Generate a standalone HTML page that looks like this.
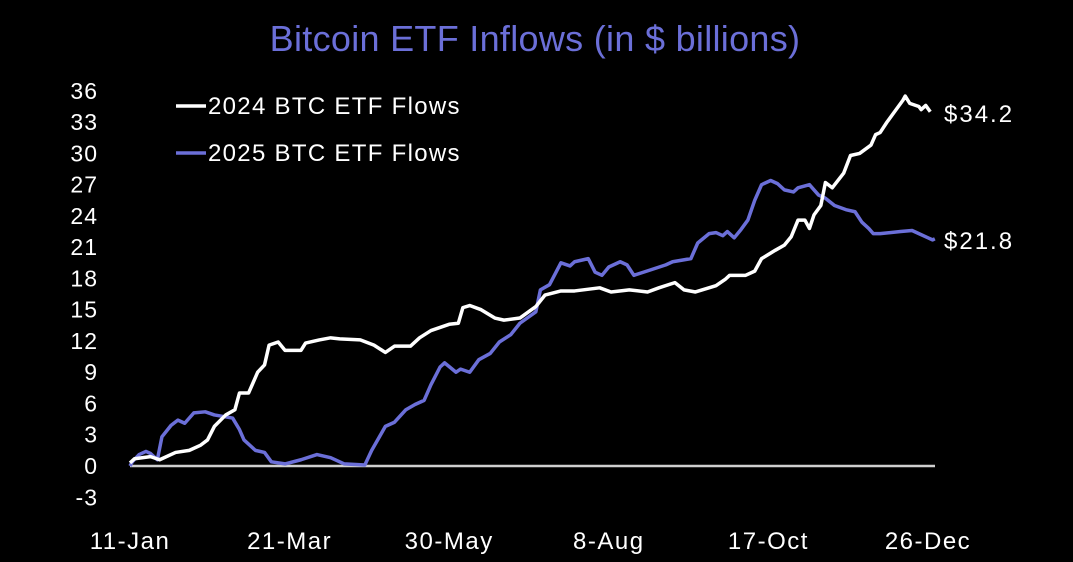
<!DOCTYPE html>
<html><head><meta charset="utf-8"><style>
html,body{margin:0;padding:0;background:#000;}
svg{display:block;font-family:"Liberation Sans",sans-serif;}
</style></head><body>
<svg id="chart" width="1073" height="562" viewBox="0 0 1073 562">
<text x="535" y="51" text-anchor="middle" fill="#6b6fd8" font-size="36" letter-spacing="0.3">Bitcoin ETF Inflows (in $ billions)</text>
<g id="yticks"></g>
<g id="xticks"></g>
<line x1="130" x2="935" y1="466" y2="466" stroke="#cfcfcf" stroke-width="2.5"/>
<g id="series"></g>
<g>
<g><line x1="176" x2="206" y1="106" y2="106" stroke="#fff" stroke-width="3.5"/><text x="208" y="114" fill="#fff" font-size="24" letter-spacing="1.3">2024 BTC ETF Flows</text></g>
<g><line x1="176" x2="206" y1="153" y2="153" stroke="#6b6fd8" stroke-width="3.5"/><text x="208" y="161" fill="#fff" font-size="24" letter-spacing="1.3">2025 BTC ETF Flows</text></g>
</g>
<text x="944" y="122" fill="#fff" font-size="24" letter-spacing="2">$34.2</text>
<text x="944" y="249" fill="#fff" font-size="24" letter-spacing="2">$21.8</text>
</svg>
<script>
const yTicks=[-3,0,3,6,9,12,15,18,21,24,27,30,33,36];
const xLabels=["11-Jan","21-Mar","30-May","8-Aug","17-Oct","26-Dec"];
const xLabelDays=[0,70,140,210,280,350];
const days2024=[0,2,9,13,20,26,31,34,37,42,46,48,52,56,59,61,65,68,75,77,83,88,92,101,107,112,116,123,127,132,140,144,146,149,154,160,164,171,178,182,189,195,206,211,219,227,232,239,243,248,257,261,263,270,274,277,283,287,290,293,296,298,300,303,305,308,313,316,320,325,327,329,332,335,339,340,342,346,347,349,351];
const flows2024=[0.3,0.7,0.9,0.6,1.3,1.5,2,2.5,3.8,4.9,5.4,7,7,9,9.7,11.6,11.9,11.1,11.1,11.8,12.1,12.3,12.2,12.1,11.6,10.9,11.5,11.5,12.3,13,13.6,13.7,15.2,15.4,15,14.2,14,14.2,15.3,16.4,16.8,16.8,17.1,16.7,16.9,16.7,17.1,17.6,16.9,16.7,17.3,17.9,18.3,18.3,18.7,19.9,20.7,21.2,22,23.6,23.6,22.8,24.1,25,27.2,26.7,28.1,29.8,30,30.8,31.8,32,33,33.9,35.1,35.5,34.8,34.5,34.2,34.6,34];
const days2025=[0,1,4,7,9,12,14,18,21,24,28,33,37,45,48,50,55,59,62,68,75,82,88,94,103,106,112,116,121,125,129,132,136,138,143,145,149,153,158,162,167,171,178,180,184,189,193,195,201,204,207,210,215,218,221,228,235,238,246,249,254,257,260,262,265,268,271,274,277,281,284,287,291,293,298,302,305,309,314,318,321,324,326,329,338,343,346,350,352,353];
const flows2025=[0,0.4,1.1,1.4,1.2,0.6,2.8,3.9,4.4,4.1,5.1,5.2,4.9,4.6,3.5,2.5,1.5,1.3,0.4,0.2,0.6,1.1,0.8,0.2,0.1,1.5,3.8,4.2,5.4,5.9,6.3,7.8,9.5,9.9,9,9.3,9,10.2,10.8,11.9,12.6,13.7,14.8,16.9,17.4,19.5,19.2,19.6,19.9,18.6,18.3,19.1,19.6,19.3,18.3,18.8,19.3,19.6,19.9,21.4,22.3,22.4,22.1,22.5,21.9,22.7,23.6,25.5,27,27.4,27.1,26.5,26.3,26.7,27,26,25.7,25,24.6,24.4,23.4,22.8,22.3,22.3,22.5,22.6,22.3,21.9,21.7,21.8];
const NS="http://www.w3.org/2000/svg";
const xs=d=>130+d*2.28;
const ys=v=>466-v*10.42;
const yg=document.getElementById('yticks');
yTicks.forEach(v=>{const t=document.createElementNS(NS,'text');
t.setAttribute('x',98);t.setAttribute('y',ys(v)+8);t.setAttribute('text-anchor','end');t.setAttribute('fill','#fff');t.setAttribute('font-size','23');t.setAttribute('letter-spacing','1');t.textContent=v;


yg.appendChild(t);});
const xg=document.getElementById('xticks');
xLabels.forEach((l,i)=>{const t=document.createElementNS(NS,'text');
t.setAttribute('x',xs(xLabelDays[i]));t.setAttribute('y',549);t.setAttribute('text-anchor','middle');t.setAttribute('fill','#fff');t.setAttribute('font-size','24');t.setAttribute('letter-spacing','1.5');t.textContent=l;


xg.appendChild(t);});
const sg=document.getElementById('series');
function line(days,vals,color,name){const p=document.createElementNS(NS,'polyline');
p.setAttribute('points',days.map((d,i)=>xs(d)+','+ys(vals[i])).join(' '));
p.setAttribute('fill','none');p.setAttribute('stroke',color);p.setAttribute('stroke-width','3.5');p.setAttribute('stroke-linejoin','round');


sg.appendChild(p);}
line(days2025,flows2025,'#6b6fd8','series-2025-line');
line(days2024,flows2024,'#ffffff','series-2024-line');
</script>
</body></html>
